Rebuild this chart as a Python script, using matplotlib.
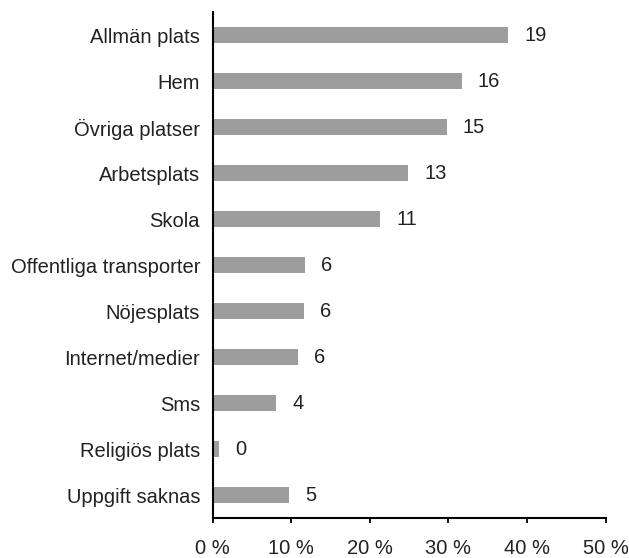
import matplotlib
matplotlib.use("Agg")
import matplotlib.pyplot as plt

categories = ["Allmän plats", "Hem", "Övriga platser", "Arbetsplats", "Skola",
              "Offentliga transporter", "Nöjesplats", "Internet/medier", "Sms",
              "Religiös plats", "Uppgift saknas"]
percent = [37.6, 31.7, 29.8, 24.9, 21.3, 11.8, 11.6, 10.9, 8.1, 0.8, 9.7]
counts = [19, 16, 15, 13, 11, 6, 6, 6, 4, 0, 5]
xticks = [0, 10, 20, 30, 40, 50]
xticklabels = ["0 %", "10 %", "20 %", "30 %", "40 %", "50 %"]

plt.rcParams['font.family'] = ['Liberation Sans', 'DejaVu Sans']
FS = 14.5
TXT = "#222222"

fig = plt.figure(figsize=(6.29, 5.58), dpi=100)
ax = fig.add_axes([0.338, 0.0711, 0.625, 0.9074])

y = list(range(len(categories)))
ax.barh(y, percent, height=0.35, color="#9d9d9d")
for yi, p, c in zip(y, percent, counts):
    ax.annotate(str(c), (p, yi), xytext=(11.5, 0), textcoords="offset points",
                va="center", ha="left", fontsize=FS, color=TXT)

ax.set_ylim(len(categories) - 0.5, -0.5)
ax.set_xlim(0, 50)
ax.set_yticks(y)
ax.set_yticklabels(categories, fontsize=FS, color=TXT)
ax.tick_params(axis="y", length=0, pad=9)
ax.set_xticks(xticks)
ax.set_xticklabels(xticklabels, fontsize=FS, color=TXT)
ax.tick_params(axis="x", length=3.6, width=1.3, pad=11, direction="out")

for s in ["top", "right"]:
    ax.spines[s].set_visible(False)
for s in ["left", "bottom"]:
    ax.spines[s].set_linewidth(1.5)
    ax.spines[s].set_color("black")

fig.savefig("out.png", dpi=100)
